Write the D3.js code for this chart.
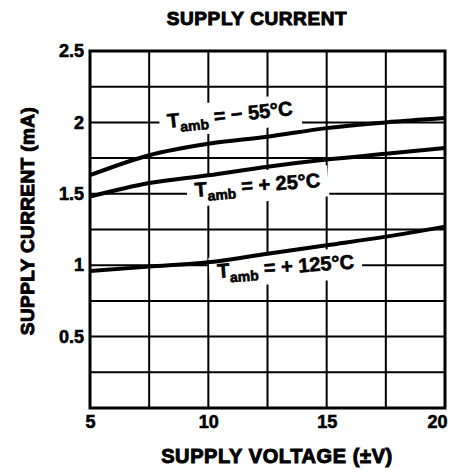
<!DOCTYPE html>
<html>
<head>
<meta charset="utf-8">
<script src="https://cdn.jsdelivr.net/npm/d3@7"></script>
<style>
  body { margin: 0; background: #fff; }
  text { font-family: "Liberation Sans", Arial, sans-serif; font-weight: bold; }
</style>
</head>
<body>
<div id="vis"></div>
<script>
// data
var volts = [5, 7.5, 10, 12.5, 15, 17.5, 20]
var iM55 = [1.63, 1.77, 1.85, 1.90, 1.96, 2.0, 2.03]
var iP25 = [1.48, 1.575, 1.63, 1.69, 1.74, 1.78, 1.82]
var iP125 = [0.96, 0.99, 1.02, 1.08, 1.14, 1.2, 1.27]

var xTicks = [5, 10, 15, 20]
var yTicks = [0.5, 1, 1.5, 2, 2.5]
var xGrid = [5, 7.5, 10, 12.5, 15, 17.5, 20]
var yGrid = [0, 0.25, 0.5, 0.75, 1, 1.25, 1.5, 1.75, 2, 2.25, 2.5]

var labelTemps = ["\u2212 55\u00b0C", "+ 25\u00b0C", "+ 125\u00b0C"]
var labelX = [8.3, 9.45, 10.4]
var labelY = [1.96, 1.48, 0.91]
var labelAngle = [-6, -4.5, -4]

// measurements
var width = 456, height = 474
var margin = {top: 51, right: 11, bottom: 66, left: 90}
var w = width - margin.right
var h = height - margin.bottom

var x = d3.scaleLinear().domain([5, 20]).range([margin.left, w])
var y = d3.scaleLinear().domain([0, 2.5]).range([h, margin.top])

var svg = d3.select("#vis").append("svg")
  .attr("width", width)
  .attr("height", height)

// grid
svg.append("g").selectAll("line")
  .data(xGrid).enter().append("line")
  .attr("x1", d => x(d)).attr("x2", d => x(d))
  .attr("y1", y(0)).attr("y2", y(2.5))
  .style("stroke", "#000").style("stroke-width", "2px")

svg.append("g").selectAll("line")
  .data(yGrid).enter().append("line")
  .attr("x1", x(5)).attr("x2", x(20))
  .attr("y1", d => y(d)).attr("y2", d => y(d))
  .style("stroke", "#000").style("stroke-width", "2px")

svg.append("rect")
  .attr("x", x(5)).attr("y", y(2.5))
  .attr("width", x(20) - x(5)).attr("height", y(0) - y(2.5))
  .style("fill", "none").style("stroke", "#000").style("stroke-width", "3px")

// curve labels (white boxes cut the grid behind them)
var labels = svg.append("g")
var boxes = labels.append("g")
var texts = labels.append("g")

labelTemps.forEach(function(t, i) {
  var g = texts.append("g")
    .attr("transform", `translate(${x(labelX[i])},${y(labelY[i])}) rotate(${labelAngle[i]})`)
  var txt = g.append("text").style("font-size", "20px")
    .style("stroke", "#000").style("stroke-width", "0.6px")
  txt.append("tspan").text("T")
  txt.append("tspan").attr("dy", 5).style("font-size", "14px").text("amb")
  txt.append("tspan").attr("dy", -5).text(" = " + t)
  var bb = txt.node().getBBox()
  boxes.append("rect")
    .attr("transform", `translate(${x(labelX[i])},${y(labelY[i])}) rotate(${labelAngle[i]})`)
    .attr("x", bb.x - 8).attr("y", bb.y - 3)
    .attr("width", bb.width + 16).attr("height", bb.height + 5)
    .style("fill", "#fff")
})

// curves
var line = d3.line()
  .x((d, i) => x(volts[i]))
  .y(d => y(d))
  .curve(d3.curveMonotoneX)

svg.append("g").selectAll("path")
  .data([iM55, iP25, iP125]).enter().append("path")
  .attr("d", line)
  .style("fill", "none").style("stroke", "#000").style("stroke-width", "4px")

texts.raise()

// axes
var xAxis = svg.append("g")
  .attr("transform", `translate(0,${h})`)
  .call(d3.axisBottom(x).tickValues(xTicks).tickSize(0).tickPadding(7).tickFormat(d3.format("d")))
xAxis.select(".domain").remove()
xAxis.selectAll("text").style("font-size", "18px").style("fill", "#000")
  .style("stroke", "#000").style("stroke-width", "0.6px")
  .filter(d => d === 20).attr("dx", -8)

var yAxis = svg.append("g")
  .attr("transform", `translate(${margin.left},0)`)
  .call(d3.axisLeft(y).tickValues(yTicks).tickSize(0).tickPadding(6).tickFormat(d => d))
yAxis.select(".domain").remove()
yAxis.selectAll("text").style("font-size", "18px").style("fill", "#000")
  .style("stroke", "#000").style("stroke-width", "0.6px")

// titles
svg.append("text")
  .attr("x", 257).attr("y", 25)
  .style("text-anchor", "middle").style("font-size", "19px")
  .style("letter-spacing", "0.6px")
  .style("stroke", "#000").style("stroke-width", "1px")
  .text("SUPPLY CURRENT")

svg.append("text")
  .attr("x", 277).attr("y", 463)
  .style("text-anchor", "middle").style("font-size", "20px")
  .style("letter-spacing", "0.6px")
  .style("stroke", "#000").style("stroke-width", "1px")
  .text("SUPPLY VOLTAGE (\u00b1V)")

svg.append("text")
  .attr("transform", `translate(34,221) rotate(-90)`)
  .style("text-anchor", "middle").style("font-size", "19px")
  .style("letter-spacing", "0.4px")
  .style("stroke", "#000").style("stroke-width", "1px")
  .text("SUPPLY CURRENT (mA)")
</script>
</body>
</html>
